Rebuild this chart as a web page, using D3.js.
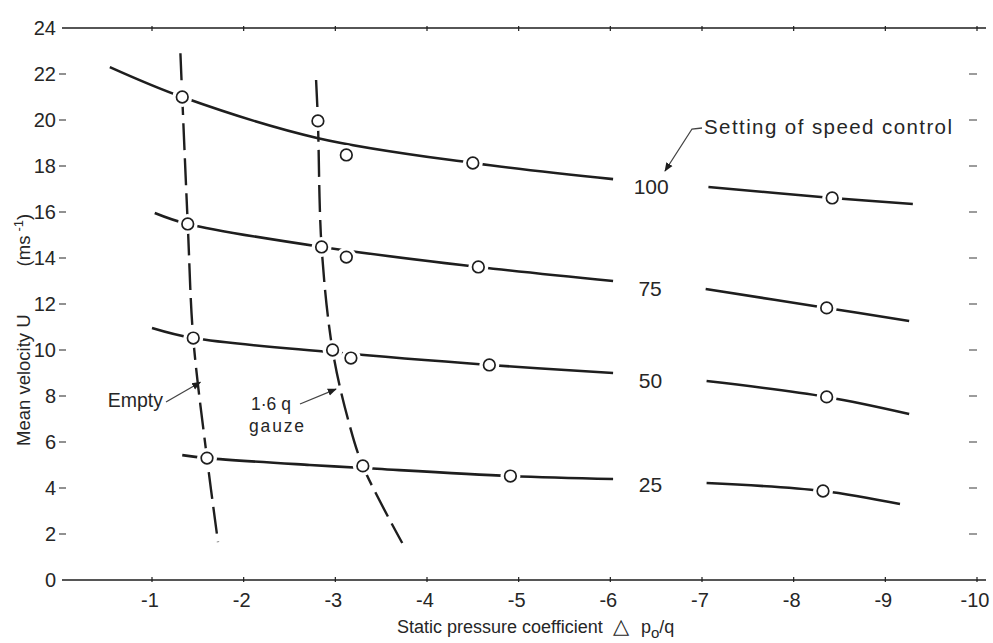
<!DOCTYPE html>
<html><head><meta charset="utf-8">
<script src="https://cdn.jsdelivr.net/npm/d3@7/dist/d3.min.js"></script>
<style>
body{margin:0;background:#fff}
svg{display:block}
text{font-family:"Liberation Sans",Arial,Helvetica,sans-serif;fill:#262626}
</style>
</head><body>
<svg id="chart" width="993" height="643"></svg>
<script>
// ---------- data ----------
const xTicks = [-1,-2,-3,-4,-5,-6,-7,-8,-9,-10];
const yTicks = [0,2,4,6,8,10,12,14,16,18,20,22,24];
const speedSettings = ["100","75","50","25"];

// fitted curves (left segment, right segment) per speed setting
const curve100Left  = [[-0.54,22.3],[-1.33,21.0],[-2.80,19.22],[-4.50,18.13],[-6.03,17.43]];
const curve100Right = [[-7.07,17.09],[-8.42,16.61],[-9.30,16.35]];
const curve75Left   = [[-1.03,15.96],[-1.39,15.48],[-2.85,14.48],[-4.56,13.61],[-6.03,13.0]];
const curve75Right  = [[-7.04,12.65],[-8.36,11.83],[-9.26,11.26]];
const curve50Left   = [[-1.0,10.96],[-1.45,10.52],[-2.97,9.9],[-4.68,9.35],[-6.03,9.0]];
const curve50Right  = [[-7.05,8.65],[-8.36,7.96],[-9.26,7.22]];
const curve25Left   = [[-1.33,5.43],[-1.60,5.30],[-2.72,5.0],[-3.30,4.87],[-4.91,4.52],[-6.03,4.39]];
const curve25Right  = [[-7.05,4.22],[-8.32,3.87],[-9.16,3.30]];

// measured points
const points100 = [[-1.33,21.0],[-2.81,19.96],[-3.12,18.48],[-4.50,18.13],[-8.42,16.61]];
const points75  = [[-1.39,15.48],[-2.85,14.48],[-3.12,14.04],[-4.56,13.61],[-8.36,11.83]];
const points50  = [[-1.45,10.52],[-2.97,10.0],[-3.17,9.65],[-4.68,9.35],[-8.36,7.96]];
const points25  = [[-1.60,5.30],[-3.30,4.96],[-4.91,4.52],[-8.32,3.87]];

// dashed lines (screen conditions)
const emptyLine = [[-1.31,22.9],[-1.33,21.0],[-1.39,15.48],[-1.45,10.52],[-1.60,5.30],[-1.72,1.65]];
const gauzeLine = [[-2.79,21.74],[-2.81,19.96],[-2.85,14.48],[-2.97,10.0],[-3.14,6.96],[-3.30,4.96],[-3.73,1.61]];

const xTitle = "Static pressure coefficient";
const yTitle = "Mean velocity U";
const yUnit = "(ms";
const legendTitle = "Setting of speed control";

// ---------- drawing ----------
const svg = d3.select("#chart");
const x = d3.scaleLinear().domain([-1,-10]).range([152,977]);
const y = d3.scaleLinear().domain([0,24]).range([580,28]);
const ink = "#1e1e1e";

// frame lines (top & bottom)
const fx0 = 62, fx1 = 986;
[0,24].forEach(v=>{
  svg.append("line").attr("x1",fx0).attr("x2",fx1).attr("y1",y(v)).attr("y2",y(v))
    .attr("stroke",ink).attr("stroke-width",1.6);
});
// x ticks on both frame lines
xTicks.forEach(t=>{
  svg.append("line").attr("x1",x(t)).attr("x2",x(t)).attr("y1",y(0)-3).attr("y2",y(0)+2)
    .attr("stroke",ink).attr("stroke-width",1.2);
  svg.append("line").attr("x1",x(t)).attr("x2",x(t)).attr("y1",y(24)-2).attr("y2",y(24)+3)
    .attr("stroke",ink).attr("stroke-width",1.2);
});
// x tick labels
svg.append("g").selectAll("text").data(xTicks).join("text")
  .attr("x",d=>x(d)-2).attr("y",y(0)+27).attr("text-anchor","middle")
  .attr("font-size",20).text(d=>"-"+Math.abs(d));

// y tick labels + dashes
svg.append("g").selectAll("text").data(yTicks).join("text")
  .attr("x",56).attr("y",d=>y(d)).attr("dy","0.36em").attr("text-anchor","end")
  .attr("font-size",20).text(d=>d);
svg.append("g").selectAll("line").data(yTicks.filter(d=>d>0&&d<24)).join("line")
  .attr("x1",59).attr("x2",66).attr("y1",d=>y(d)).attr("y2",d=>y(d))
  .attr("stroke","#555").attr("stroke-width",1.3);
// right side dashes
svg.append("g").selectAll("line").data(yTicks.filter(d=>d>0&&d<24)).join("line")
  .attr("x1",969).attr("x2",977).attr("y1",d=>y(d)).attr("y2",d=>y(d))
  .attr("stroke","#666").attr("stroke-width",1.3);

// axis titles
const xt = svg.append("text").attr("x",397).attr("y",633).attr("font-size",18);
xt.append("tspan").text(xTitle);
xt.append("tspan").attr("x",613).attr("font-family","DejaVu Sans").attr("font-size",21).text("\u25B3");
xt.append("tspan").attr("x",641).text("p");
xt.append("tspan").attr("dy",5).attr("font-size",15).text("o");
xt.append("tspan").attr("dy",-5).text("/q");

const yt = svg.append("text").attr("transform","translate(30,446) rotate(-90)").attr("font-size",18.5);
yt.append("tspan").text(yTitle);
yt.append("tspan").attr("dx",48).text(yUnit);
yt.append("tspan").attr("dx",4).attr("dy",-7).attr("font-size",13).text("-1");
yt.append("tspan").attr("dy",7).text(")");

// curves
const line = d3.line().x(d=>x(d[0])).y(d=>y(d[1])).curve(d3.curveCatmullRom.alpha(0.5));
const curves = [curve100Left,curve100Right,curve75Left,curve75Right,curve50Left,curve50Right,curve25Left,curve25Right];
svg.append("g").selectAll("path").data(curves).join("path")
  .attr("d",line).attr("fill","none").attr("stroke",ink).attr("stroke-width",2.6);

// dashed screen lines
svg.append("g").selectAll("path").data([emptyLine,gauzeLine]).join("path")
  .attr("d",line).attr("fill","none").attr("stroke",ink).attr("stroke-width",2.4)
  .attr("stroke-dasharray","27,8");

// points with white halo
const allPts = [].concat(points100,points75,points50,points25);
svg.append("g").selectAll("circle").data(allPts).join("circle")
  .attr("cx",d=>x(d[0])).attr("cy",d=>y(d[1])).attr("r",10).attr("fill","#fff");
svg.append("g").selectAll("circle").data(allPts).join("circle")
  .attr("cx",d=>x(d[0])).attr("cy",d=>y(d[1])).attr("r",5.8)
  .attr("fill","#fff").attr("stroke",ink).attr("stroke-width",1.7);

// speed setting labels in the gap between the two segments of each curve
const lefts = [curve100Left,curve75Left,curve50Left,curve25Left];
const rights = [curve100Right,curve75Right,curve50Right,curve25Right];
svg.append("g").selectAll("text").data(speedSettings).join("text")
  .attr("x",(d,i)=>{const a=x(lefts[i][lefts[i].length-1][0]), b=x(rights[i][0][0]); return a+0.4*(b-a);})
  .attr("y",(d,i)=>(y(lefts[i][lefts[i].length-1][1])+y(rights[i][0][1]))/2+3)
  .attr("dy","0.36em").attr("text-anchor","middle").attr("font-size",21).text(d=>d);

// legend title + leader arrow to "100"
svg.append("defs").append("marker").attr("id","ah").attr("viewBox","0 0 10 10")
  .attr("refX",9).attr("refY",5).attr("markerWidth",7).attr("markerHeight",7)
  .attr("orient","auto-start-reverse")
  .append("path").attr("d","M0,1 L10,5 L0,9 Z").attr("fill",ink);
svg.append("text").attr("x",704).attr("y",134).attr("font-size",20.5)
  .attr("textLength",248).attr("lengthAdjust","spacing").text(legendTitle);
svg.append("path").attr("d","M702,128 L692,129 L665,171").attr("fill","none")
  .attr("stroke","#444").attr("stroke-width",1.3).attr("marker-end","url(#ah)");

// Empty annotation
svg.append("text").attr("x",163).attr("y",407).attr("text-anchor","end").attr("font-size",19.5).text("Empty");
svg.append("path").attr("d",`M166,402 L${x(-1.56)-3},${y(8.6)}`).attr("fill","none")
  .attr("stroke","#444").attr("stroke-width",1.3).attr("marker-end","url(#ah)");

// gauze annotation
svg.append("text").attr("x",251).attr("y",410).attr("font-size",17.5).text("1\u00B76 q");
svg.append("text").attr("x",249).attr("y",432).attr("font-size",17.5)
  .attr("textLength",55).attr("lengthAdjust","spacing").text("gauze");
svg.append("path").attr("d",`M300,404 L${x(-3.04)-3},${y(8.3)}`).attr("fill","none")
  .attr("stroke","#444").attr("stroke-width",1.3).attr("marker-end","url(#ah)");
</script>
</body></html>
